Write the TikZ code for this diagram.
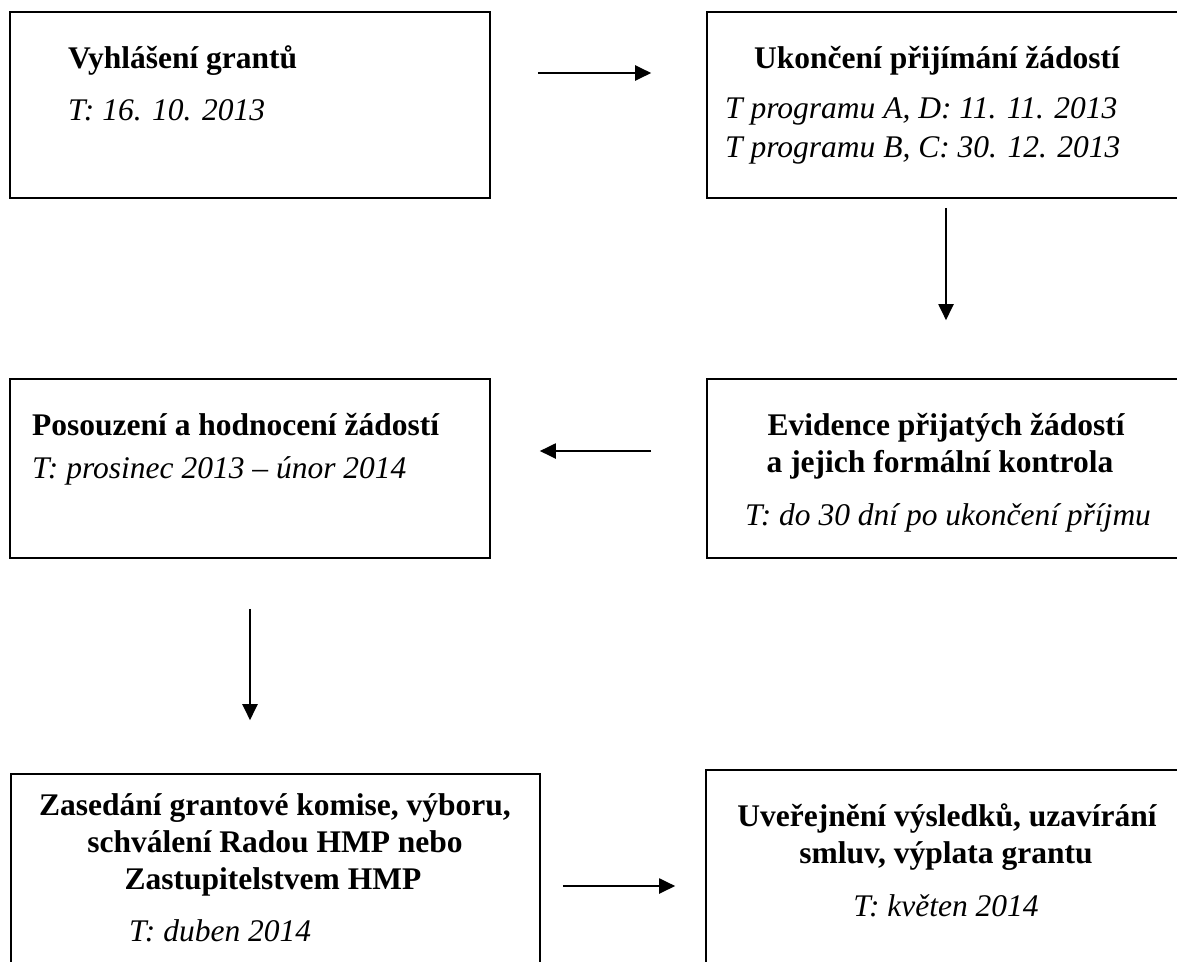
\documentclass[tikz,border=0pt]{standalone}
\usepackage{fontspec}
\setmainfont{Liberation Serif}
\usetikzlibrary{arrows.meta,calc}
\begin{document}
\begin{tikzpicture}[x=1pt,y=-1pt,
  box/.style={draw, line width=1.6pt, rectangle, inner sep=0pt},
  tb/.style={font=\fontsize{31.5}{37}\selectfont\bfseries, inner sep=0pt},
  ti/.style={font=\fontsize{31.5}{37}\selectfont\itshape, inner sep=0pt},
  arr/.style={line width=2pt, -{Triangle[length=16pt,width=15pt]}}]
\useasboundingbox (0,0) rectangle (1177,961);
\fill[white] (0,0) rectangle (1177,961);
\clip (0,0) rectangle (1177,961);
% boxes
\node[box, minimum width=480pt, minimum height=186pt] (b1) at (250,105) {};
\node[box, minimum width=483pt, minimum height=186pt] (b2) at (948.5,105) {};
\node[box, minimum width=480pt, minimum height=179pt] (b3) at (250,468.5) {};
\node[box, minimum width=483pt, minimum height=179pt] (b4) at (948.5,468.5) {};
\node[box, minimum width=529pt, minimum height=210pt] (b5) at (275.5,879) {};
\node[box, minimum width=484pt, minimum height=214pt] (b6) at (948,877) {};
% texts
\node[tb, anchor=base west] (t1) at (68,68) {Vyhlášení grantů};
\node[ti, anchor=base west] (d1) at (68,120) {T: 16. 10. 2013};
\node[tb, anchor=base] (t2) at (937,68) {Ukončení přijímání žádostí};
\node[ti, anchor=base west] (d2a) at (725,118) {T programu A, D: 11. 11. 2013};
\node[ti, anchor=base west] (d2b) at (725,157) {T programu B, C: 30. 12. 2013};
\node[tb, anchor=base west] (t3) at (32,435) {Posouzení a hodnocení žádostí};
\node[ti, anchor=base west] (d3) at (32,478) {T: prosinec 2013 – únor 2014};
\node[tb, anchor=base] (t4a) at (946,435) {Evidence přijatých žádostí};
\node[tb, anchor=base] (t4b) at (940,472) {a jejich formální kontrola};
\node[ti, anchor=base] (d4) at (948,525) {T: do 30 dní po ukončení příjmu};
\node[tb, anchor=base] (t5a) at (275,815) {Zasedání grantové komise, výboru,};
\node[tb, anchor=base] (t5b) at (275,852) {schválení Radou HMP nebo};
\node[tb, anchor=base] (t5c) at (273,889) {Zastupitelstvem HMP};
\node[ti, anchor=base west] (d5) at (129,941) {T: duben 2014};
\node[tb, anchor=base] (t6a) at (947,826) {Uveřejnění výsledků, uzavírání};
\node[tb, anchor=base] (t6b) at (946,863) {smluv, výplata grantu};
\node[ti, anchor=base] (d6) at (946,916) {T: květen 2014};
% arrows
\draw[arr] ($(b1.east)+(47,-32)$) coordinate (s1) -- ($(s1 -| b2.west)+(-55,0)$);
\draw[arr] ($(b2.south)+(-2.5,9)$) coordinate (s2) -- ($(s2 |- b4.north)+(0,-58)$);
\draw[arr] ($(b4.west)+(-55,-17.5)$) coordinate (s3) -- ($(s3 -| b3.east)+(49,0)$);
\draw[arr] ($(b3.south)+(0,50)$) coordinate (s4) -- ($(s4 |- b5.north)+(0,-53)$);
\draw[arr] ($(b5.east)+(22,7)$) coordinate (s5) -- ($(s5 -| b6.west)+(-30,0)$);
\end{tikzpicture}
\end{document}
